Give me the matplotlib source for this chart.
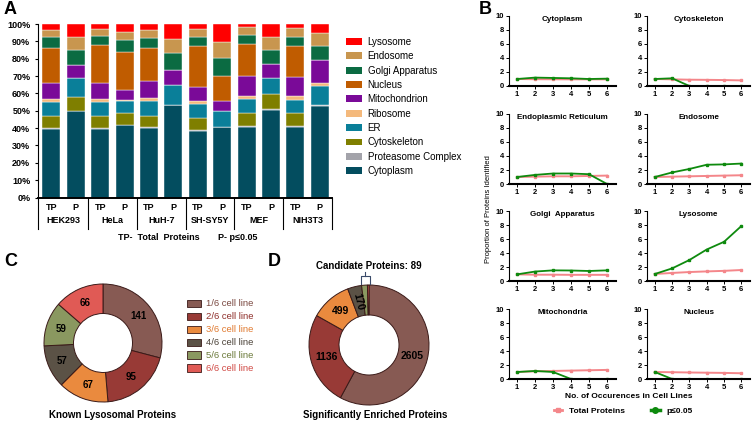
import numpy as np
import matplotlib.pyplot as plt
from matplotlib.lines import Line2D
from matplotlib.patches import Patch

plt.rcParams['font.family'] = ['Liberation Sans', 'DejaVu Sans']

# ---- panel A: subcellular distribution (% of proteins) ----
cell_lines = ['HEK293', 'HeLa', 'HuH-7', 'SH-SY5Y', 'MEF', 'NIH3T3']
bar_labels = ['TP', 'P'] * 6

cytoplasm     = [39.7, 49.9, 39.7, 41.8, 40.3, 53.4, 38.4, 40.9, 40.5, 50.3, 40.5, 52.8]
proteasome    = [0.6, 0.1, 0.6, 0.2, 0.6, 0.0, 0.6, 0.0, 0.8, 0.6, 0.8, 0.4]
cytoskeleton  = [6.7, 8.2, 6.7, 6.6, 6.1, 0.0, 7.1, 0.0, 7.3, 8.8, 7.3, 0.0]
er            = [8.1, 10.5, 8.1, 7.1, 8.7, 11.5, 7.6, 9.0, 8.0, 9.4, 7.6, 11.1]
ribosome      = [1.7, 0.3, 1.7, 0.4, 1.9, 0.0, 2.0, 0.0, 1.9, 0.0, 2.3, 1.9]
mitochondrion = [9.0, 7.2, 9.0, 5.9, 9.6, 8.6, 8.2, 5.8, 11.6, 7.9, 11.2, 13.1]
nucleus       = [20.6, 0.0, 21.9, 22.1, 19.2, 0.0, 23.6, 14.5, 18.2, 0.0, 17.6, 0.0]
golgi         = [5.9, 8.8, 5.4, 6.7, 5.7, 9.6, 5.2, 10.0, 5.6, 8.0, 5.4, 8.2]
endosome      = [4.4, 7.7, 4.0, 4.6, 4.4, 8.3, 4.2, 9.6, 4.2, 7.7, 5.0, 7.1]
lysosome      = [3.3, 7.3, 2.9, 4.6, 3.5, 8.6, 3.1, 10.2, 1.9, 7.3, 2.3, 5.4]

comp_names = ['Cytoplasm', 'Proteasome Complex', 'Cytoskeleton', 'ER', 'Ribosome',
              'Mitochondrion', 'Nucleus', 'Golgi Apparatus', 'Endosome', 'Lysosome']
comp_values = [cytoplasm, proteasome, cytoskeleton, er, ribosome,
               mitochondrion, nucleus, golgi, endosome, lysosome]
comp_colors = ['#034d5f', '#a3a3aa', '#7f7f00', '#0a7f99', '#f4b97c',
               '#7a0a98', '#c05c00', '#0b6b42', '#c8964f', '#ff0000']

# ---- panel B: proportion vs number of cell lines ----
occurrences = [1, 2, 3, 4, 5, 6]
b_titles = ['Cytoplasm', 'Cytoskeleton', 'Endoplasmic Reticulum', 'Endosome',
            'Golgi  Apparatus', 'Lysosome', 'Mitochondria', 'Nucleus']
total_cytoplasm = [1.0, 0.97, 0.96, 0.95, 0.95, 0.95]
sig_cytoplasm = [1.0, 1.2, 1.15, 1.1, 1.0, 1.05]
total_cytoskeleton = [1.0, 0.95, 0.9, 0.88, 0.85, 0.8]
sig_cytoskeleton = [1.0, 1.1, 0.0, 0.0, 0.0, 0.0]
total_er = [1.0, 1.05, 1.1, 1.1, 1.15, 1.2]
sig_er = [1.0, 1.3, 1.5, 1.5, 1.4, 0.0]
total_endosome = [1.0, 1.05, 1.1, 1.15, 1.2, 1.25]
sig_endosome = [1.0, 1.65, 2.15, 2.75, 2.8, 2.92]
total_golgi = [0.95, 0.9, 0.9, 0.88, 0.88, 0.88]
sig_golgi = [0.95, 1.35, 1.52, 1.5, 1.43, 1.52]
total_lysosome = [1.0, 1.15, 1.28, 1.37, 1.45, 1.57]
sig_lysosome = [1.0, 1.8, 3.0, 4.5, 5.6, 7.85]
total_mito = [1.0, 1.1, 1.15, 1.2, 1.25, 1.3]
sig_mito = [1.0, 1.15, 1.0, 0.0, 0.0, 0.0]
total_nucleus = [1.0, 0.97, 0.93, 0.9, 0.87, 0.82]
sig_nucleus = [1.0, 0.0, 0.0, 0.0, 0.0, 0.0]

b_total = [total_cytoplasm, total_cytoskeleton, total_er, total_endosome,
           total_golgi, total_lysosome, total_mito, total_nucleus]
b_sig = [sig_cytoplasm, sig_cytoskeleton, sig_er, sig_endosome,
         sig_golgi, sig_lysosome, sig_mito, sig_nucleus]

# ---- panels C, D: donuts ----
share_labels = ['1/6 cell line', '2/6 cell line', '3/6 cell line',
                '4/6 cell line', '5/6 cell line', '6/6 cell line']
known_lysosomal = [141, 95, 67, 57, 59, 66]
enriched = [2605, 1136, 499, 170, 70, 19]
donut_colors = ['#875a53', '#983a36', '#ea8a3e', '#5b5246', '#8a9860', '#e05a55']
donut_text_colors = ['#7a4840', '#8e2e2a', '#e07a30', '#4b4238', '#6b7a3a', '#d04a45']

pink = '#f4868a'
green = '#0e8a0e'

W, H = 756, 422
fig = plt.figure(figsize=(W / 100, H / 100), dpi=100)


def box(x0, y0, x1, y1):
    return [x0 / W, 1 - y1 / H, (x1 - x0) / W, (y1 - y0) / H]


# ================= A =================
axA = fig.add_axes(box(38, 24, 332, 197.5))
x = np.arange(len(bar_labels))
bottom = np.zeros(len(x))
handles = []
for name, vals, col in zip(comp_names, comp_values, comp_colors):
    axA.bar(x, vals, 0.74, bottom=bottom, color=col, edgecolor='white', linewidth=0.3)
    bottom += np.array(vals)
    handles.append(Patch(facecolor=col, label=name))
axA.set_xlim(-0.55, 11.5)
axA.set_ylim(0, 100)
axA.set_yticks(range(0, 101, 10))
axA.set_yticklabels([f'{v}%' for v in range(0, 101, 10)], fontsize=6.5, fontweight='bold')
axA.set_xticks(x)
axA.set_xticklabels(bar_labels, fontsize=6.5, fontweight='bold')
axA.tick_params(axis='x', length=0, pad=4)
axA.tick_params(axis='y', length=2, width=0.8)
for s in ['top', 'right']:
    axA.spines[s].set_visible(False)
axA.spines['bottom'].set_linewidth(1.4)
axA.spines['left'].set_linewidth(0.8)
trans = axA.get_xaxis_transform()
xl = axA.get_xlim()
for sx in [xl[0], 1.5, 3.5, 5.5, 7.5, 9.5, xl[1]]:
    axA.plot([sx, sx], [0, -0.18], transform=trans, color='black', lw=0.8, clip_on=False)
for i, name in enumerate(cell_lines):
    axA.text(2 * i + 0.5, -0.135, name, transform=trans, ha='center', va='center',
             fontsize=6.5, fontweight='bold')
fig.text(118 / W, 1 - 237 / H, 'TP-  Total  Proteins', fontsize=6.5, fontweight='bold', va='center')
fig.text(218 / W, 1 - 237 / H, 'P- p≤0.05', fontsize=6.5, fontweight='bold', va='center')
fig.legend(handles=handles[::-1], loc='upper left', bbox_to_anchor=(337 / W, 1 - 28 / H),
           frameon=False, fontsize=7, handlelength=1.65, handleheight=0.72,
           labelspacing=0.45, handletextpad=0.6)

# ================= B =================
col_x = [(509, 616), (647, 750)]
row_top = [16, 114, 211, 309]
for k, title in enumerate(b_titles):
    r, c = divmod(k, 2)
    ax = fig.add_axes(box(col_x[c][0], row_top[r], col_x[c][1], row_top[r] + 70))
    ax.plot(occurrences, b_total[k], color=pink, lw=1.4, marker='s', ms=2)
    ax.plot(occurrences, b_sig[k], color=green, lw=1.3, marker='s', ms=2)
    ax.set_xlim(0.55, 6.5)
    ax.set_ylim(0, 10)
    ax.set_xticks(occurrences)
    ax.set_yticks(range(0, 11, 2))
    ax.tick_params(labelsize=5.5, length=2, width=0.7, pad=1.5)
    for lab in ax.get_xticklabels() + ax.get_yticklabels():
        lab.set_fontweight('bold')
    for s in ['top', 'right']:
        ax.spines[s].set_visible(False)
    ax.spines['bottom'].set_linewidth(1.5)
    ax.spines['left'].set_linewidth(0.8)
    ax.text(0.5, 0.95, title, transform=ax.transAxes, ha='center', va='center',
            fontsize=5.8, fontweight='bold')
fig.text(488 / W, 1 - 209 / H, 'Proportion of Proteins Identified', rotation=90,
         ha='center', va='center', fontsize=5.5)
fig.text(629 / W, 1 - 397 / H, 'No. of Occurences in Cell Lines', ha='center', va='center',
         fontsize=6, fontweight='bold')
b_handles = [Line2D([0], [0], color=pink, lw=2, marker='s', ms=3),
             Line2D([0], [0], color=green, lw=2.5, marker='o', ms=4)]
fig.legend(b_handles, ['Total Proteins', 'p≤0.05'], ncol=2, loc='center',
           bbox_to_anchor=(623 / W, 1 - 411 / H), frameon=False,
           prop=dict(size=6, weight='bold'), handlelength=1.0, columnspacing=3.2,
           handletextpad=0.8)

# ================= C =================
rC = 59 * 1.25
axC = fig.add_axes(box(103 - rC, 343 - rC, 103 + rC, 343 + rC))
axC.pie(known_lysosomal, colors=donut_colors, startangle=90, counterclock=False,
        wedgeprops=dict(width=0.5, edgecolor='#3a1a18', linewidth=0.7),
        autopct=lambda p: f'{p * sum(known_lysosomal) / 100:.0f}', pctdistance=0.75,
        textprops=dict(fontsize=7, fontweight='bold'))
axC.set_xlim(-1.25, 1.25)
axC.set_ylim(-1.25, 1.25)
fig.text(113 / W, 1 - 415 / H, 'Known Lysosomal Proteins', ha='center', va='center',
         fontsize=7, fontweight='bold')
c_handles = [Patch(facecolor=col, edgecolor='#3a1a18', linewidth=0.6) for col in donut_colors]
fig.legend(c_handles, share_labels, loc='upper left', bbox_to_anchor=(178 / W, 1 - 291 / H),
           frameon=False, fontsize=6.8, labelcolor=donut_text_colors, handlelength=1.5,
           handleheight=0.8, labelspacing=0.42, handletextpad=0.6)

# ================= D =================
rD = 60 * 1.25
axD = fig.add_axes(box(369 - rD, 345 - rD, 369 + rD, 345 + rD))
wedges, _, autotexts = axD.pie(enriched, colors=donut_colors, startangle=90, counterclock=False,
                               wedgeprops=dict(width=0.5, edgecolor='#3a1a18', linewidth=0.7),
                               autopct=lambda p: f'{p * sum(enriched) / 100:.0f}', pctdistance=0.74,
                               textprops=dict(fontsize=7.5, fontweight='bold'))
axD.set_xlim(-1.25, 1.25)
axD.set_ylim(-1.25, 1.25)
for t in autotexts[4:]:
    t.set_text('')
w = wedges[3]
autotexts[3].set_rotation((w.theta1 + w.theta2) / 2 - 180)
th = np.radians([wedges[4].theta1, wedges[4].theta2, wedges[5].theta1, wedges[5].theta2])
bx0, bx1 = np.cos(th).min() - 0.01, np.cos(th).max() + 0.01
axD.plot([bx0, bx0, bx1, bx1], [1.01, 1.15, 1.15, 1.01], color='#3a4a6a', lw=0.8, clip_on=False)
axD.plot([(bx0 + bx1) / 2] * 2, [1.15, 1.22], color='#3a4a6a', lw=0.8, clip_on=False)
axD.text(0, 1.32, f'Candidate Proteins: {sum(enriched[4:])}', ha='center', va='center',
         fontsize=7, fontweight='bold', clip_on=False)
fig.text(375 / W, 1 - 415 / H, 'Significantly Enriched Proteins', ha='center', va='center',
         fontsize=7, fontweight='bold')

# panel letters
for letter, px, py in [('A', 4, 10), ('B', 479, 10), ('C', 4, 262), ('D', 268, 262)]:
    fig.text(px / W, 1 - py / H, letter, fontsize=13, fontweight='bold', va='center')

fig.savefig('out.png', dpi=100)
